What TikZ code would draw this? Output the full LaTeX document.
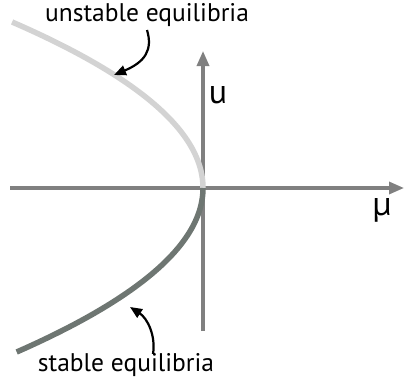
\documentclass[tikz,border=0pt]{standalone}
\usepackage{fontspec}
\setmainfont{PT Sans}
\usetikzlibrary{arrows.meta}
\begin{document}
\begin{tikzpicture}[x=1pt,y=-1pt,
  axis/.style={draw=axisgray,line width=3.2pt,-{Triangle[length=15pt,width=12pt]}},
  branch/.style={line width=5.5pt},
  callout/.style={draw=black,line width=2.2pt,-{Triangle[length=12pt,width=10pt]}},
  lbl/.style={font=\fontsize{25.5}{28}\selectfont,inner sep=0pt},
  axlbl/.style={font=\fontsize{34}{36}\selectfont,inner sep=0pt}]
\definecolor{axisgray}{HTML}{808080}
\definecolor{lightbranch}{HTML}{D3D3D3}
\definecolor{darkbranch}{HTML}{6E7672}
\useasboundingbox (0,0) rectangle (404,383);
% axes
\coordinate (xl) at (10,188);
\coordinate (xr) at (404,188);
\coordinate (yb) at (203,331);
\coordinate (yt) at (203,51);
\draw[axis] (xl) -- (xr);
\draw[axis] (yb) -- (yt);
% branches
\draw[branch,lightbranch] plot[domain=166:0,samples=60,smooth] ({203-0.00693*\x*\x},{188-\x});
\draw[branch,darkbranch] plot[domain=0:164,samples=60,smooth] ({203-0.00693*\x*\x},{188+\x});
% labels
\node[lbl] (unst) at (147,15) {unstable equilibria};
\node[lbl] (stab) at (126,365) {stable equilibria};
\node[axlbl] (ulab) at (218,95) {u};
\node[axlbl] (mulab) at (382,210) {μ};
% callouts
\coordinate (ua) at (147,30);
\coordinate (ub) at (114,75);
\coordinate (sa) at (153,354);
\coordinate (sb) at (130,307);
\draw[callout] (ua) .. controls (153,50) and (145,62) .. (ub);
\draw[callout] (sa) .. controls (156,335) and (147,318) .. (sb);
\end{tikzpicture}
\end{document}
